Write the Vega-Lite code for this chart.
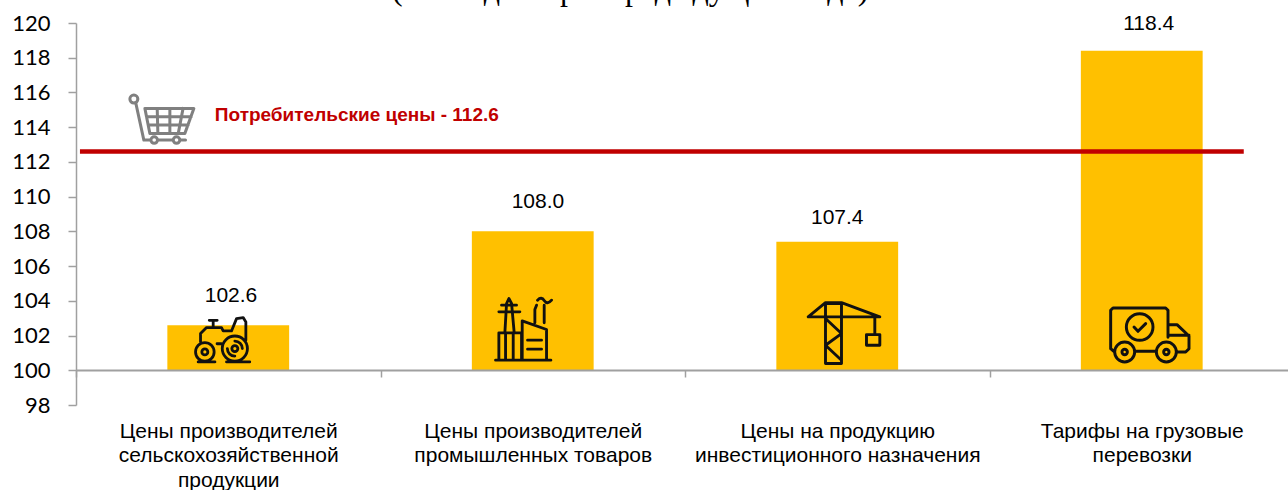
{
"$schema":"https://vega.github.io/schema/vega-lite/v6.json",
"width":1218,"height":382,
"autosize":{"type":"none"},
"padding":{"left":76,"top":23,"right":0,"bottom":85},
"background":"white",
"view":{"stroke":null},
"datasets":{
"bars":[
{"category":"Цены производителей|сельскохозяйственной|продукции","value":102.6},
{"category":"Цены производителей|промышленных товаров","value":108.0},
{"category":"Цены на продукцию|инвестиционного назначения","value":107.4},
{"category":"Тарифы на грузовые|перевозки","value":118.4}],
"labels":[
{"value":102.6,"pos":0.509,"level":104.27},
{"value":108.0,"pos":1.517,"level":109.68},
{"value":107.4,"pos":2.5,"level":108.76},
{"value":118.4,"pos":3.523,"level":119.94}],
"heading":[{"text":"(в % к декабрю предыдущего года)","pos":1.82,"level":121.35}],
"icons":[
{"icon":"tractor","pos":0.479,"level":101.44},
{"icon":"factory","pos":1.484,"level":102.54},
{"icon":"crane","pos":2.515,"level":102.19},
{"icon":"truck","pos":3.526,"level":102.07},
{"icon":"cart","pos":0.259,"level":114.41}],
"cpi":[{"from":0.013,"to":3.835,"value":112.6,"label":"Потребительские цены - 112.6","labelPos":0.456,"labelLevel":114.7}]
},
"layer":[
{"data":{"name":"bars"},"mark":{"type":"bar","color":"#FFC000","width":{"band":0.4}},
"encoding":{
"x":{"field":"category","type":"nominal","sort":null,"scale":{"paddingInner":0,"paddingOuter":0},
"axis":{"title":null,"offset":-35,"labelAngle":0,"labelExpr":"datum.value ? split(datum.value,'|') : ''","labelFont":"Liberation Sans","labelFontSize":21,"labelColor":"#000000","labelLineHeight":24.5,"labelPadding":43,"labelLimit":400,"labelBaseline":"top","tickBand":"extent","tickColor":"#A0A0A0","tickSize":7,"tickWidth":1.5,"domainColor":"#A0A0A0","domainWidth":2,"grid":false,"zindex":1}},
"y":{"field":"value","type":"quantitative","title":null,"scale":{"domain":[98,120],"nice":false,"zero":false},
"axis":{"values":[98,100,102,104,106,108,110,112,114,116,118,120],"tickCount":12,"labelOverlap":false,"grid":false,"labelFont":"Lato","labelFontSize":22,"labelColor":"#000000","labelPadding":18,"tickColor":"#A0A0A0","tickSize":8,"tickWidth":1.5,"domainColor":"#A0A0A0","domainWidth":1.5,"title":null}},
"y2":{"datum":100}}},
{"layer":[
{"data":{"name":"heading"},"mark":{"type":"text","font":"Liberation Serif","fontSize":32,"color":"#000000","baseline":"alphabetic","align":"center"},
"encoding":{"x":{"field":"pos","type":"quantitative","scale":{"domain":[0,4]},"axis":null},"y":{"field":"level","type":"quantitative"},"text":{"field":"text"}}},
{"data":{"name":"labels"},"mark":{"type":"text","font":"Liberation Sans","fontSize":21,"color":"#000000","baseline":"middle"},
"encoding":{"x":{"field":"pos","type":"quantitative","scale":{"domain":[0,4]},"axis":null},"y":{"field":"level","type":"quantitative"},"text":{"field":"value","type":"quantitative","format":".1f"}}},
{"data":{"name":"cpi"},"mark":{"type":"rule","color":"#C00000","strokeWidth":4.5},
"encoding":{"x":{"field":"from","type":"quantitative","scale":{"domain":[0,4]},"axis":null},"x2":{"field":"to"},"y":{"field":"value","type":"quantitative"}}},
{"data":{"name":"cpi"},"mark":{"type":"text","font":"Liberation Sans","fontWeight":"bold","fontSize":19,"color":"#C00000","align":"left","baseline":"middle"},
"encoding":{"x":{"field":"labelPos","type":"quantitative","scale":{"domain":[0,4]},"axis":null},"y":{"field":"labelLevel","type":"quantitative"},"text":{"field":"label"}}},
{"data":{"name":"icons"},"mark":{"type":"point","size":3600,"filled":false,"opacity":1,"strokeCap":"round","strokeJoin":"round"},
"encoding":{
"x":{"field":"pos","type":"quantitative","scale":{"domain":[0,4]},"axis":null},
"y":{"field":"level","type":"quantitative"},
"color":{"field":"icon","type":"nominal","legend":null,"scale":{"domain":["tractor","factory","crane","truck","cart"],"range":["#111111","#111111","#111111","#111111","#808080"]}},
"strokeWidth":{"field":"icon","type":"nominal","legend":null,"scale":{"domain":["tractor","factory","crane","truck","cart"],"range":[2.8,3,4.5,3,1.7]}},
"shape":{"field":"icon","type":"nominal","legend":null,"scale":{"domain":["tractor","factory","crane","truck","cart"],"range":[
"M-.877 .222a.31 .31 0 1 0 .62 0a.31 .31 0 1 0 -.62 0M-.667 .222a.1 .1 0 1 0 .2 0a.1 .1 0 1 0 -.2 0M.013 .111a.42 .42 0 1 0 .84 0a.42 .42 0 1 0 -.84 0M.333 .111a.1 .1 0 1 0 .2 0a.1 .1 0 1 0 -.2 0M.183 .111a.25 .25 0 0 0 .25 .25M.683 .111a.25 .25 0 0 0 -.25 -.25M-.79 .556L-.23 .556M.155 .556L.93 .556M-.711 -.111L-.711 -.389L-.511 -.589L-.011 -.589L.044 -.478L.322 -.478L.489 -.889L.711 -.922L.8 -.778L.8 -.167M-.289 -.589L-.289 -.833M-.42 -.833L-.156 -.833M-.16 -.05L-.02 -.05",
"M-1.078 1.133L.767 1.133M-.767 .222L-.711 -.756L-.633 -.922L-.544 -.756L-.456 .222M-.967 -.478L-.267 -.478M-.878 -.7L-.378 -.7M-.967 .222L-.211 .222M-.967 .222L-.967 1.133M-.744 .222L-.744 1.133M-.489 .222L-.489 1.133M-.211 .222L-.211 1.133M-.189 1.133L-.189 -.178L.622 .111L.622 1.133M-.011 .467L.456 .467M-.011 .767L.456 .767M.233 -.111L.233 -.556L.289 -.7M.544 -.7L.544 -.111M.322 -.867Q.45 -1 .55 -.85T.789 -.867",
"M-.544 -.956L-.011 -.956L-.011 1.044L-.544 1.044ZM-1.122 -.511L1.267 -.511L-.011 -.989L-.544 -.989ZM-.544 -.456L-.011 .044L-.544 .433L-.011 .933M1.1 -.511L1.1 .078M.822 .078L1.267 .078L1.267 .433L.822 .433Z",
"M-1.167 .589L-1.3 .478L-1.3 -.8L-1.222 -.878L.533 -.878L.611 -.8L.611 .1M-.444 .567L.222 .567M.611 -.322L.911 -.322L1.311 .056L1.311 .478L1.2 .589L.944 .589M.644 .033L1.311 .033M-1.166 .589a.333 .333 0 1 0 .666 0a.333 .333 0 1 0 -.666 0M-.923 .589a.09 .09 0 1 0 .18 0a.09 .09 0 1 0 -.18 0M.223 .589a.333 .333 0 1 0 .666 0a.333 .333 0 1 0 -.666 0M.466 .589a.09 .09 0 1 0 .18 0a.09 .09 0 1 0 -.18 0M-.777 -.244a.444 .444 0 1 0 .888 0a.444 .444 0 1 0 -.888 0M-.522 -.244L-.389 -.1L-.133 -.356",
"M-.833 -.7a.133 .133 0 1 0 .266 0a.133 .133 0 1 0 -.266 0M-.633 -.556L-.367 .667L-.132 .667M-.132 .667a.11 .11 0 1 0 .22 0a.11 .11 0 1 0 -.22 0M.612 .667a.11 .11 0 1 0 .22 0a.11 .11 0 1 0 -.22 0M.089 .667L.611 .667M.833 .667L1.022 .667M-.333 -.389L1.3 -.389L1 .444L-.167 .444ZM-.28 -.111L1.21 -.111M-.21 .167L1.11 .167M.078 -.389L.1 .444M.5 -.389L.5 .444M.94 -.389L.78 .444"
]}}}}
]}
],
"resolve":{"scale":{"x":"independent"}}
}
